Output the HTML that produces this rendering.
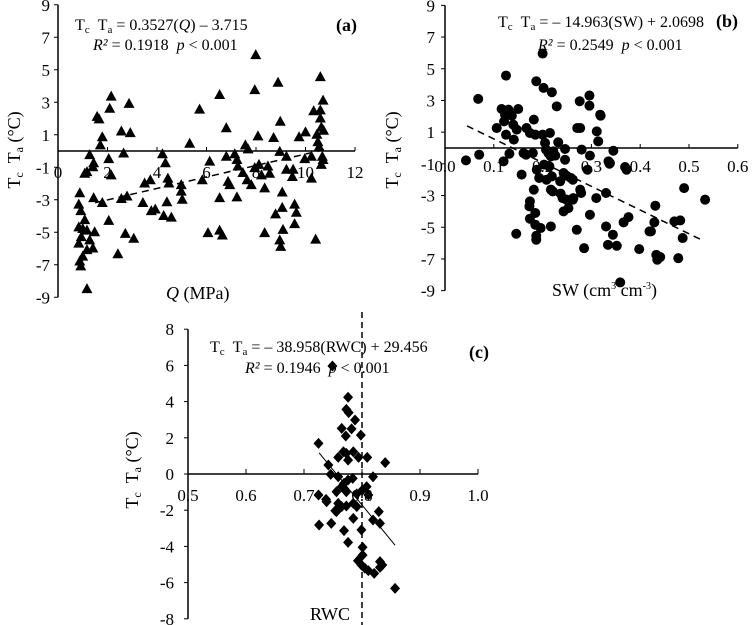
<!DOCTYPE html>
<html><head><meta charset="utf-8"><style>
html,body{margin:0;padding:0;background:#fff;}
svg{display:block;font-family:"Liberation Serif",serif;}
</style></head><body>
<svg id="chart" width="753" height="625" viewBox="0 0 753 625" xmlns="http://www.w3.org/2000/svg"></svg>
<script>
// Panel (a) data
const aQ=[0.88,0.84,0.92,0.84,1.0,0.84,0.94,0.88,0.92,1.0,1.17,1.08,1.17,1.28,1.44,1.41,1.08,1.17,1.28,1.48,1.17,1.41,1.44,1.58,1.66,1.79,1.71,1.79,2.09,2.15,2.05,2.15,2.05,2.56,2.65,2.56,2.79,2.42,2.72,2.87,2.92,3.06,3.43,3.5,3.73,3.77,3.93,4.22,4.34,4.44,4.48,4.40,4.27,4.58,4.98,4.98,5.02,5.32,5.72,5.83,6.13,6.06,6.53,6.53,6.64,6.53,6.8,6.8,6.87,6.94,7.14,7.23,7.27,7.23,7.47,7.57,7.68,7.64,7.81,7.95,7.95,7.99,8.08,8.12,8.22,8.35,8.35,8.48,8.55,8.71,8.79,8.89,8.98,8.96,9.06,9.06,9.09,8.96,9.0,9.23,9.23,9.47,9.5,9.56,9.63,9.56,9.74,10.0,9.97,10.24,10.24,10.33,10.41,10.46,10.5,10.55,10.6,10.6,10.6,10.64,10.64,10.71,10.73,10.68,10.71];
const aT=[-2.6,-3.3,-3.7,-4.7,-4.8,-5.7,-5.3,-6.8,-7.1,-6.5,-8.5,-1.4,-1.3,-0.25,-0.75,-1.0,-4.25,-4.9,-5.5,-5.0,-6.1,-6.0,-2.9,2.1,1.95,0.85,0.35,-3.2,2.6,3.35,-0.5,-1.5,-4.3,1.2,-0.15,-2.95,-2.8,-6.35,-5.1,2.9,1.1,-5.4,-3.2,-2.0,-1.8,-3.7,-3.6,-0.2,-0.75,-1.7,-2.0,-3.15,-4.0,-4.1,-2.1,-2.5,-3.0,0.45,2.55,-1.8,-0.65,-5.05,3.45,-4.9,-5.2,-2.9,1.4,-0.35,-1.9,-2.1,-0.2,-0.55,-0.95,-2.85,-1.35,0.35,0.1,-1.8,-2.1,3.75,-1.05,5.9,0.9,-0.85,-1.5,-2.3,-5.05,-0.95,-1.4,0.8,-3.9,4.2,1.8,-0.05,-2.55,-3.5,-4.85,-5.5,-5.9,-0.35,-1.15,-1.6,-1.15,-3.3,-3.8,-4.5,0.85,1.15,-0.5,-0.35,-1.7,2.45,-5.45,1.0,0.55,0.25,4.55,2.0,2.5,1.45,-0.85,3.1,1.25,-0.35,-0.55];
// Panel (b) data
const bSW=[.043,.068,.070,.106,.116,.123,.125,.121,.125,.120,.132,.130,.137,.140,.141,.147,.150,.157,.146,.161,.166,.167,.174,.173,.174,.180,.182,.185,.174,.185,.185,.187,.187,.187,.188,.193,.196,.182,.200,.202,.200,.205,.203,.207,.208,.212,.214,.215,.217,.217,.219,.217,.219,.221,.222,.226,.229,.232,.236,.237,.243,.241,.243,.246,.246,.249,.249,.253,.258,.262,.262,.263,.270,.271,.276,.277,.277,.279,.280,.285,.292,.296,.296,.297,.297,.310,.311,.314,.318,.319,.330,.330,.335,.337,.338,.334,.345,.344,.352,.359,.366,.369,.372,.376,.398,.419,.422,.429,.431,.433,.435,.441,.470,.482,.478,.487,.490,.533];
const bT=[-0.78,3.1,-0.42,1.26,2.46,2.1,4.57,1.68,0.84,-0.84,-0.36,2.42,2.04,1.47,0.53,1.16,2.46,-1.68,-5.41,-0.32,-0.42,1.26,0.95,-3.68,-3.37,-0.32,1.79,0.84,-4.46,-4.1,-4.84,-5.54,-5.79,4.21,-1.37,-1.89,-5.05,-2.63,5.96,3.79,0.84,0.32,-1.05,-0.1,-2.0,-0.32,-1.16,0.95,-0.53,-2.63,3.52,-4.95,-1.79,-2.74,-0.21,-0.48,2.63,0.36,-2.1,-2.88,-1.58,-3.16,-4.0,-0.06,-0.74,-1.75,-3.26,-3.79,-1.89,-2.0,-3.26,-3.16,-5.16,1.26,2.95,1.26,-2.63,-2.84,-0.1,-6.32,-1.37,3.31,2.67,-0.48,-4.21,-3.16,1.05,0.42,2.1,2.04,-2.84,-4.95,-0.84,-0.99,-0.95,-6.11,-0.17,-5.47,-6.17,-8.48,-4.69,-1.2,-1.37,-4.36,-6.38,-5.26,-5.26,-4.69,-3.64,-6.74,-7.05,-6.88,-4.63,-4.57,-6.95,-5.68,-2.53,-3.26];
// Panel (c) data
const cRWC=[.749,.776,.773,.777,.788,.765,.782,.772,.798,.725,.785,.768,.773,.759,.776,.794,.809,.840,.742,.746,.759,.819,.776,.769,.784,.765,.756,.773,.791,.801,.808,.811,.725,.738,.739,.759,.765,.773,.754,.756,.785,.791,.829,.785,.819,.831,.726,.747,.769,.799,.776,.801,.801,.793,.799,.805,.811,.821,.831,.835,.831,.857];
const cT=[5.97,4.24,3.57,3.39,2.98,2.52,2.49,2.1,2.15,1.69,1.23,1.23,1.14,0.92,0.77,0.92,0.92,0.63,0.5,-0.02,-0.15,-0.15,-0.33,-0.52,-0.24,-0.7,-0.98,-0.98,-1.1,-0.88,-0.7,-1.16,-1.16,-1.4,-1.53,-1.62,-1.8,-1.77,-2.03,-2.08,-1.62,-1.8,-2.08,-2.45,-2.54,-2.73,-2.82,-2.73,-3.13,-3.09,-3.78,-4.05,-4.48,-4.79,-5.03,-5.21,-5.34,-5.49,-4.84,-5.03,-5.16,-6.32];
const aXTicks=[0,2,4,6,8,10,12];
const aYTicks=[9,7,5,3,1,-1,-3,-5,-7,-9];
const bXTicks=["0.0","0.1","0.2","0.3","0.4","0.5","0.6"];
const cXTicks=["0.5","0.6","0.7","0.8","0.9","1.0"];
const cYTicks=[8,6,4,2,0,-2,-4,-6,-8];

const svg=document.getElementById('chart');
const NS='http://www.w3.org/2000/svg';
function mk(tag,attrs,parent,text){const e=document.createElementNS(NS,tag);for(const k in attrs)e.setAttribute(k,attrs[k]);if(text!==undefined)e.textContent=text;(parent||svg).appendChild(e);return e;}
const SP='\u00a0\u00a0';
const TCTA=(s1,s2)=>`T<tspan font-size="${s1}" dy="3">c</tspan><tspan dy="-3">${SP}T</tspan><tspan font-size="${s1}" dy="3">a</tspan><tspan dy="-3">${s2}</tspan>`;

const ax=v=>58+v*24.75, ay=v=>151-v*16.25;
const bx=v=>445+v*488, by=v=>148-v*15.85;
const cx=v=>188+(v-0.5)*580, cy=v=>474-v*18.1;

function panel(name){const g=mk('g',{});return g;}
const FS=17, EQ=16;

// ---------- Panel A ----------
let g=panel('panel-a');
mk('line',{x1:ax(0),y1:ay(9),x2:ax(0),y2:ay(-9),stroke:'#000','stroke-width':1.5},g);
mk('line',{x1:ax(0),y1:ay(0),x2:ax(12),y2:ay(0),stroke:'#000','stroke-width':1.5},g);
aYTicks.forEach(v=>{mk('line',{x1:ax(0)-4,y1:ay(v),x2:ax(0),y2:ay(v),stroke:'#000'},g);
 const t=mk('text',{x:ax(0)-8,y:ay(v)+6,'text-anchor':'end','font-size':FS},g,String(v));});
aXTicks.forEach(v=>{mk('line',{x1:ax(v),y1:ay(0)-4,x2:ax(v),y2:ay(0),stroke:'#000'},g);
 const t=mk('text',{x:ax(v),y:ay(0)+27,'text-anchor':'middle','font-size':FS},g,String(v));});
aQ.forEach((q,i)=>{const X=ax(q),Y=ay(aT[i]);const p=mk('polygon',{points:`${X},${Y-6} ${X-5.5},${Y+4} ${X+5.5},${Y+4}`,fill:'#000'},g);});
{const f=v=>0.3527*v-3.715;const l=mk('line',{x1:ax(1.5),y1:ay(f(1.5)),x2:ax(10.8),y2:ay(f(10.8)),stroke:'#000','stroke-width':1.5,'stroke-dasharray':'7,5'},g);}
{let t=mk('text',{x:75,y:30,'font-size':EQ},g);t.innerHTML=TCTA(11,' = 0.3527(<tspan font-style="italic">Q</tspan>) – 3.715');
 t=mk('text',{x:93,y:50,'font-size':EQ},g);t.innerHTML='<tspan font-style="italic">R²</tspan> = 0.1918'+SP+'<tspan font-style="italic">p</tspan> &lt; 0.001';
 t=mk('text',{x:336,y:31,'font-size':18,'font-weight':'bold'},g,'(a)');
 t=mk('text',{x:166,y:299,'font-size':18},g);t.innerHTML='<tspan font-style="italic">Q</tspan> (MPa)';
 t=mk('text',{transform:'translate(20,150) rotate(-90)','text-anchor':'middle','font-size':18},g);t.innerHTML=TCTA(12,' (°C)');}

// ---------- Panel B ----------
g=panel('panel-b');
mk('line',{x1:bx(0),y1:by(9),x2:bx(0),y2:by(-9),stroke:'#000','stroke-width':1.5},g);
mk('line',{x1:bx(0),y1:by(0),x2:bx(0.6),y2:by(0),stroke:'#000','stroke-width':1.5},g);
aYTicks.forEach(v=>{mk('line',{x1:bx(0)-4,y1:by(v),x2:bx(0),y2:by(v),stroke:'#000'},g);
 const t=mk('text',{x:bx(0)-10,y:by(v)+6,'text-anchor':'end','font-size':FS},g,String(v));});
bXTicks.forEach(s=>{const v=parseFloat(s);mk('line',{x1:bx(v),y1:by(0)-4,x2:bx(v),y2:by(0),stroke:'#000'},g);
 const t=mk('text',{x:bx(v),y:by(0)+24,'text-anchor':'middle','font-size':FS},g,s);});
bSW.forEach((s,i)=>{const c=mk('circle',{cx:bx(s),cy:by(bT[i]),r:5,fill:'#000'},g);});
{const f=v=>-14.963*v+2.0698;const l=mk('line',{x1:bx(0.045),y1:by(f(0.045)),x2:bx(0.525),y2:by(f(0.525)),stroke:'#000','stroke-width':1.5,'stroke-dasharray':'7,5'},g);}
{let t=mk('text',{x:498,y:27,'font-size':EQ},g);t.innerHTML=TCTA(11,' = – 14.963(SW) + 2.0698');
 t=mk('text',{x:538,y:50,'font-size':EQ},g);t.innerHTML='<tspan font-style="italic">R²</tspan> = 0.2549'+SP+'<tspan font-style="italic">p</tspan> &lt; 0.001';
 t=mk('text',{x:716,y:27,'font-size':18,'font-weight':'bold'},g,'(b)');
 t=mk('text',{x:552,y:296,'font-size':18},g);t.innerHTML='SW (cm<tspan font-size="10" dy="-7">3</tspan><tspan dy="7">\u00a0cm</tspan><tspan font-size="10" dy="-7">-3</tspan><tspan dy="7">)</tspan>';
 t=mk('text',{transform:'translate(398,150) rotate(-90)','text-anchor':'middle','font-size':18},g);t.innerHTML=TCTA(12,' (°C)');}

// ---------- Panel C ----------
g=panel('panel-c');
mk('line',{x1:cx(0.5),y1:cy(8),x2:cx(0.5),y2:cy(-8),stroke:'#000','stroke-width':1.5},g);
mk('line',{x1:cx(0.5),y1:cy(0),x2:cx(1.0),y2:cy(0),stroke:'#000','stroke-width':1.5},g);
cYTicks.forEach(v=>{mk('line',{x1:cx(0.5)-4,y1:cy(v),x2:cx(0.5),y2:cy(v),stroke:'#000'},g);
 const t=mk('text',{x:cx(0.5)-14,y:cy(v)+6,'text-anchor':'end','font-size':FS},g,String(v));});
cXTicks.forEach(s=>{const v=parseFloat(s);mk('line',{x1:cx(v),y1:cy(0)-5,x2:cx(v),y2:cy(0),stroke:'#000'},g);
 const t=mk('text',{x:cx(v),y:cy(0)+27,'text-anchor':'middle','font-size':FS},g,s);});
{const l=mk('line',{x1:cx(0.8),y1:312,x2:cx(0.8),y2:625,stroke:'#000','stroke-width':1.5,'stroke-dasharray':'6,4'},g);}
cRWC.forEach((r,i)=>{const X=cx(r),Y=cy(cT[i]);const p=mk('polygon',{points:`${X},${Y-5.5} ${X+5},${Y} ${X},${Y+5.5} ${X-5},${Y}`,fill:'#000'},g);});
{const f=v=>-38.958*v+29.456;const l=mk('line',{x1:cx(0.726),y1:cy(f(0.726)),x2:cx(0.857),y2:cy(f(0.857)),stroke:'#000','stroke-width':1},g);}
{let t=mk('text',{x:210,y:352,'font-size':EQ},g);t.innerHTML=TCTA(11,' = – 38.958(RWC) + 29.456');
 t=mk('text',{x:245,y:373,'font-size':EQ},g);t.innerHTML='<tspan font-style="italic">R²</tspan> = 0.1946'+SP+'<tspan font-style="italic">p</tspan> &lt; 0.001';
 t=mk('text',{x:469,y:358,'font-size':18,'font-weight':'bold'},g,'(c)');
 t=mk('text',{x:310,y:620,'font-size':18},g,'RWC');
 t=mk('text',{transform:'translate(138,470) rotate(-90)','text-anchor':'middle','font-size':18},g);t.innerHTML=TCTA(12,' (°C)');}
</script>
</body></html>
